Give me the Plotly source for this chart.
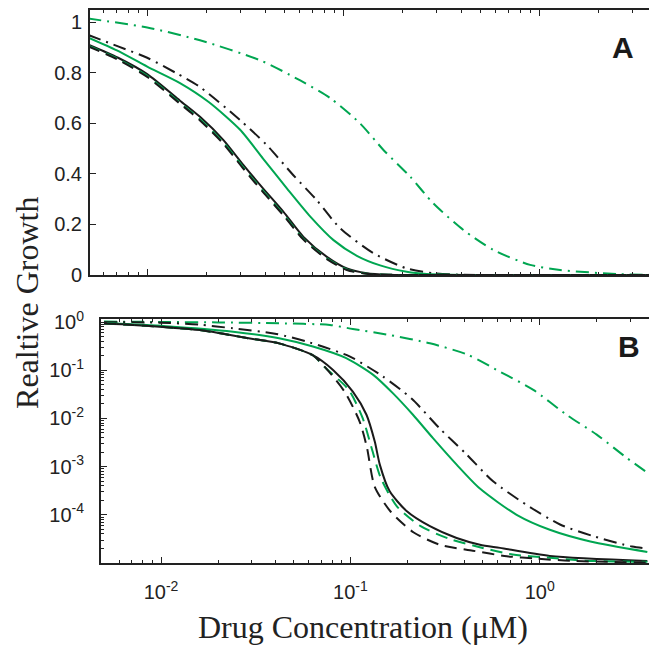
import plotly.graph_objects as go

# ---------------- Panel A (linear y) ----------------
a_black_solid_x = [0.005, 0.0071, 0.01, 0.0147, 0.0186, 0.0245, 0.031, 0.039, 0.0496, 0.0627, 0.0826, 0.1045, 0.132, 0.17, 0.25, 0.5, 1.0, 2.0, 3.7]
a_black_solid_y = [0.912, 0.86, 0.795, 0.69, 0.626, 0.534, 0.435, 0.343, 0.25, 0.151, 0.072, 0.026, 0.007, 0.001, 0.0, 0.0, 0.0, 0.0, 0.0]

a_green_dash_x = [0.005, 0.0071, 0.01, 0.0147, 0.0186, 0.0245, 0.031, 0.039, 0.0496, 0.0627, 0.0826, 0.1045, 0.132, 0.17, 0.25, 0.5, 1.0, 2.0, 3.7]
a_green_dash_y = [0.908, 0.855, 0.788, 0.682, 0.617, 0.524, 0.425, 0.333, 0.24, 0.143, 0.066, 0.022, 0.005, 0.001, 0.0, 0.0, 0.0, 0.0, 0.0]

a_black_dash_x = [0.005, 0.0071, 0.01, 0.0147, 0.0186, 0.0245, 0.031, 0.039, 0.0496, 0.0627, 0.0826, 0.1045, 0.132, 0.17, 0.25, 0.5, 1.0, 2.0, 3.7]
a_black_dash_y = [0.905, 0.852, 0.784, 0.678, 0.612, 0.519, 0.42, 0.328, 0.236, 0.14, 0.063, 0.02, 0.005, 0.001, 0.0, 0.0, 0.0, 0.0, 0.0]

a_green_solid_x = [0.005, 0.007, 0.01, 0.0147, 0.0206, 0.0298, 0.039, 0.0516, 0.068, 0.0893, 0.1175, 0.1545, 0.211, 0.267, 0.35, 0.5, 1.0, 2.0, 3.7]
a_green_solid_y = [0.94, 0.889, 0.825, 0.76, 0.685, 0.575, 0.461, 0.343, 0.231, 0.138, 0.076, 0.038, 0.013, 0.004, 0.001, 0.0, 0.0, 0.0, 0.0]

a_black_dashdot_x = [0.005, 0.0071, 0.01, 0.014, 0.0186, 0.0298, 0.0408, 0.0557, 0.0734, 0.0966, 0.143, 0.211, 0.289, 0.4, 0.6, 1.0, 2.0, 3.7]
a_black_dashdot_y = [0.95, 0.905, 0.86, 0.80, 0.744, 0.613, 0.514, 0.395, 0.296, 0.185, 0.086, 0.026, 0.007, 0.001, 0.0, 0.0, 0.0, 0.0]

a_green_dashdot_x = [0.005, 0.01, 0.0186, 0.0377, 0.0604, 0.086, 0.122, 0.161, 0.22, 0.289, 0.411, 0.585, 0.9, 1.28, 2.59, 3.7]
a_green_dashdot_y = [1.015, 0.98, 0.929, 0.85, 0.77, 0.70, 0.60, 0.494, 0.389, 0.283, 0.178, 0.099, 0.04, 0.02, 0.003, 0.001]

# ---------------- Panel B (log y) ----------------
b_green_dashdot_x = [0.005, 0.0106, 0.02, 0.042, 0.078, 0.103, 0.161, 0.263, 0.411, 0.617, 0.925, 1.39, 2.0, 2.89, 3.7]
b_green_dashdot_y = [1.02, 1.0, 0.98, 0.94, 0.867, 0.716, 0.538, 0.361, 0.214, 0.093, 0.039, 0.0118, 0.0046, 0.0015, 7.5e-4]

b_black_dashdot_x = [0.005, 0.0098, 0.016, 0.0239, 0.0407, 0.061, 0.099, 0.147, 0.211, 0.296, 0.41, 0.569, 0.853, 1.28, 1.92, 3.07, 3.7]
b_black_dashdot_y = [0.99, 0.97, 0.88, 0.74, 0.565, 0.376, 0.193, 0.076, 0.0255, 0.0062, 0.0018, 4.9e-4, 1.6e-4, 6.3e-5, 3.6e-5, 2.2e-5, 2.0e-5]

b_green_solid_x = [0.005, 0.0106, 0.024, 0.042, 0.0634, 0.095, 0.132, 0.168, 0.214, 0.273, 0.364, 0.483, 0.755, 1.13, 1.85, 3.7]
b_green_solid_y = [0.95, 0.82, 0.63, 0.46, 0.31, 0.178, 0.080, 0.033, 0.0119, 0.0039, 0.0011, 3.5e-4, 1.0e-4, 4.9e-5, 2.8e-5, 1.7e-5]

b_black_solid_x = [0.005, 0.0071, 0.016, 0.029, 0.042, 0.063, 0.081, 0.103, 0.1216, 0.1345, 0.143, 0.161, 0.198, 0.263, 0.364, 0.483, 0.617, 1.13, 3.7]
b_black_solid_y = [0.93, 0.87, 0.68, 0.46, 0.36, 0.207, 0.101, 0.036, 0.0119, 0.0033, 0.0011, 3.1e-4, 1.2e-4, 5.8e-5, 3.3e-5, 2.4e-5, 2.06e-5, 1.4e-5, 1.1e-5]

b_green_dash_x = [0.005, 0.0071, 0.016, 0.029, 0.042, 0.063, 0.073, 0.098, 0.116, 0.130, 0.1445, 0.176, 0.235, 0.331, 0.466, 0.72, 1.09, 1.69, 3.7]
b_green_dash_y = [0.93, 0.87, 0.68, 0.46, 0.36, 0.207, 0.117, 0.039, 0.0102, 0.0023, 5.9e-4, 1.5e-4, 5.8e-5, 3.2e-5, 2.2e-5, 1.5e-5, 1.3e-5, 1.12e-5, 1.06e-5]

b_black_dash_x = [0.005, 0.0071, 0.016, 0.029, 0.042, 0.063, 0.074, 0.094, 0.112, 0.122, 0.1345, 0.163, 0.216, 0.296, 0.443, 0.67, 0.97, 1.45, 3.7]
b_black_dash_y = [0.93, 0.87, 0.68, 0.46, 0.36, 0.207, 0.112, 0.034, 0.0085, 0.0026, 3.8e-4, 1.17e-4, 4.3e-5, 2.4e-5, 1.8e-5, 1.38e-5, 1.23e-5, 1.11e-5, 1.02e-5]

# tick definitions
x_major = [0.01, 0.1, 1]
x_major_text = ["10<sup>-2</sup>", "10<sup>-1</sup>", "10<sup>0</sup>"]
x_minor = [0.006, 0.007, 0.008, 0.009, 0.02, 0.03, 0.04, 0.05, 0.06, 0.07, 0.08, 0.09,
           0.2, 0.3, 0.4, 0.5, 0.6, 0.7, 0.8, 0.9, 2, 3]
ya_ticks = [0, 0.2, 0.4, 0.6, 0.8, 1]
yb_major = [1e-4, 1e-3, 1e-2, 1e-1, 1]
yb_major_text = ["10<sup>-4</sup>", "10<sup>-3</sup>", "10<sup>-2</sup>", "10<sup>-1</sup>", "10<sup>0</sup>"]
yb_minor = [m * 10.0 ** e for e in range(-5, 0) for m in range(2, 10)]

GREEN = "#00a651"
BLACK = "#1a1a1a"
DASH = "12px,7px"
DASHDOT = "13px,6px,2px,6px"

fig = go.Figure()

def add(x, y, color, dash, xa, ya):
    fig.add_trace(go.Scatter(x=x, y=y, mode="lines", xaxis=xa, yaxis=ya,
                             line=dict(color=color, width=2, dash=dash, shape="spline", smoothing=0.7),
                             showlegend=False, hoverinfo="skip"))

# Panel A
add(a_green_dashdot_x, a_green_dashdot_y, GREEN, DASHDOT, "x", "y")
add(a_black_dashdot_x, a_black_dashdot_y, BLACK, DASHDOT, "x", "y")
add(a_green_solid_x, a_green_solid_y, GREEN, "solid", "x", "y")
add(a_black_solid_x, a_black_solid_y, BLACK, "solid", "x", "y")
add(a_green_dash_x, a_green_dash_y, GREEN, DASH, "x", "y")
add(a_black_dash_x, a_black_dash_y, BLACK, DASH, "x", "y")

# Panel B
add(b_green_dashdot_x, b_green_dashdot_y, GREEN, DASHDOT, "x2", "y2")
add(b_black_dashdot_x, b_black_dashdot_y, BLACK, DASHDOT, "x2", "y2")
add(b_green_solid_x, b_green_solid_y, GREEN, "solid", "x2", "y2")
add(b_black_solid_x, b_black_solid_y, BLACK, "solid", "x2", "y2")
add(b_green_dash_x, b_green_dash_y, GREEN, DASH, "x2", "y2")
add(b_black_dash_x, b_black_dash_y, BLACK, DASH, "x2", "y2")

tickfont = dict(family="Liberation Sans, Arial, sans-serif", size=20, color="#222")
axis_common = dict(showgrid=False, zeroline=False, showline=True, linecolor="#222", linewidth=2,
                   ticks="inside", ticklen=6, tickwidth=1, tickcolor="#222", tickfont=tickfont)
minor_common = dict(ticks="inside", ticklen=3, tickwidth=1, tickcolor="#222", showgrid=False)

fig.update_layout(
    width=649, height=650,
    margin=dict(l=90, r=0, t=10, b=87),
    paper_bgcolor="white", plot_bgcolor="white",
    xaxis=dict(type="log", range=[-2.292, 0.561], domain=[0, 1], anchor="y",
               tickmode="array", tickvals=x_major, showticklabels=False, mirror="ticks",
               minor=dict(tickmode="array", tickvals=x_minor, **minor_common), **axis_common),
    yaxis=dict(range=[0, 1.049], domain=[0.5208, 1], anchor="x",
               tickmode="array", tickvals=ya_ticks, ticklabelstandoff=2, **axis_common),
    xaxis2=dict(type="log", range=[-2.317, 0.577], domain=[0.0197, 1], anchor="y2",
                tickmode="array", tickvals=x_major, ticktext=x_major_text, mirror="ticks",
                ticklabelstandoff=10,
                minor=dict(tickmode="array", tickvals=x_minor, **minor_common), **axis_common),
    yaxis2=dict(type="log", range=[-5, 0.062], domain=[0, 0.4412], anchor="x2",
                tickmode="array", tickvals=yb_major, ticktext=yb_major_text, ticklabelstandoff=11,
                minor=dict(tickmode="array", tickvals=yb_minor, **minor_common), **axis_common),
)

serif = dict(family="Liberation Serif, Times New Roman, serif", size=32, color="#222")
fig.add_annotation(text="Realtive Growth", xref="paper", yref="paper", x=-0.113, y=0.47,
                   textangle=-90, showarrow=False, font=serif, xanchor="center", yanchor="middle")
fig.add_annotation(text="Drug Concentration (μM)", xref="paper", yref="paper", x=0.4875, y=-0.1157,
                   showarrow=False, font=serif, xanchor="center", yanchor="middle")
bold = dict(family="Liberation Sans, Arial, sans-serif", size=30, color="#1a1a1a")
fig.add_annotation(text="<b>A</b>", xref="paper", yref="paper", x=0.9535, y=0.933,
                   showarrow=False, font=bold, xanchor="center", yanchor="middle")
fig.add_annotation(text="<b>B</b>", xref="paper", yref="paper", x=0.964, y=0.3906,
                   showarrow=False, font=bold, xanchor="center", yanchor="middle")

fig.write_html("out.html", config={"displayModeBar": False},
               post_script="document.body.style.margin='0';document.body.style.overflow='hidden';")
